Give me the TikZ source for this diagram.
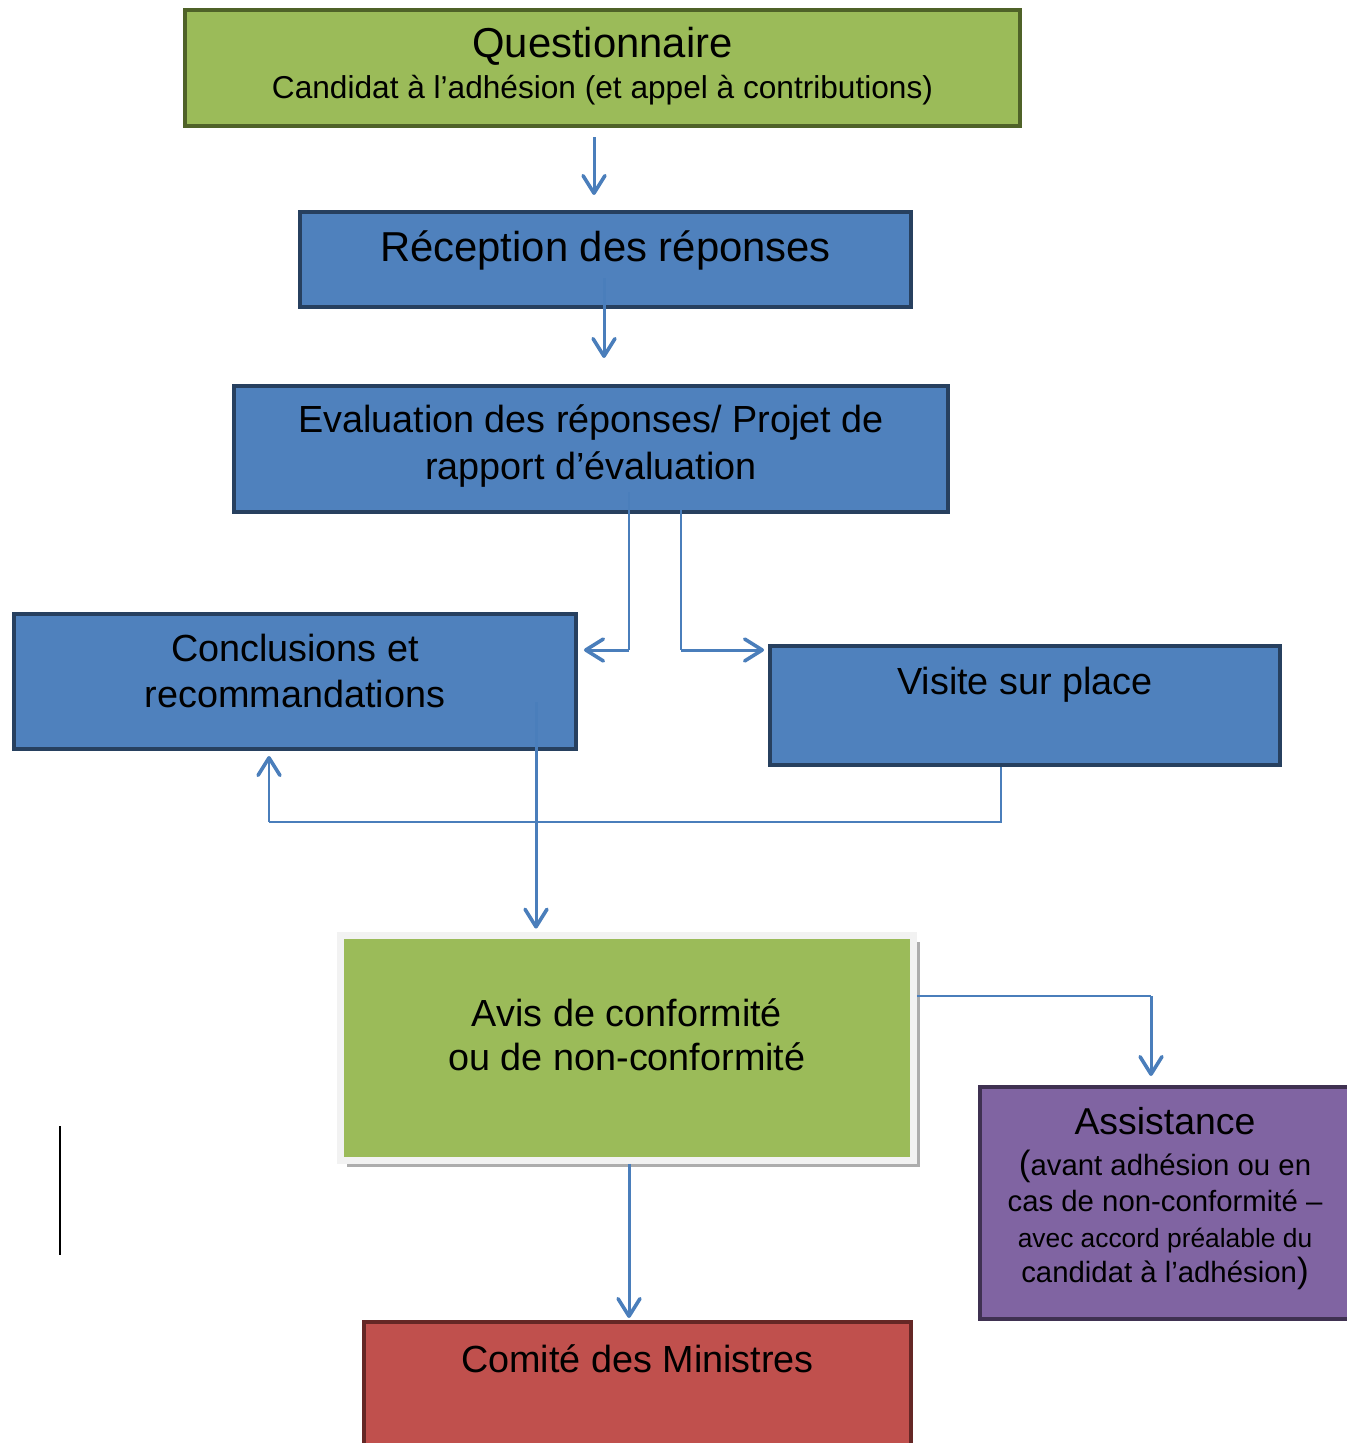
\documentclass[tikz,border=0pt]{standalone}
\usepackage{fontspec}
\setmainfont{Liberation Sans}
\usepackage{xcolor}
\usetikzlibrary{calc,arrows.meta,shadows}
\definecolor{qgreen}{HTML}{9BBB59}
\definecolor{qgreenline}{HTML}{4F6228}
\definecolor{qblue}{HTML}{4F81BD}
\definecolor{qblueline}{HTML}{27405F}
\definecolor{qpurple}{HTML}{8064A2}
\definecolor{qpurpleline}{HTML}{3F3151}
\definecolor{qred}{HTML}{C0504D}
\definecolor{qredline}{HTML}{652725}
\definecolor{qarrow}{HTML}{4A7EBB}
\definecolor{qframe}{HTML}{F2F2F2}
\tikzset{
    box/.style={
        rectangle,
        line width=2.3pt,
        inner sep=0pt
    },
    greenbox/.style={box, fill=qgreen, draw=qgreenline},
    bluebox/.style={box, fill=qblue, draw=qblueline},
    purplebox/.style={box, fill=qpurple, draw=qpurpleline},
    redbox/.style={box, fill=qred, draw=qredline},
    avisbox/.style={
        rectangle, inner sep=0pt,
        fill=qgreen, draw=qframe, line width=3.9pt,
        drop shadow={shadow xshift=3.8pt, shadow yshift=-3.8pt, fill=black!40, opacity=.8}
    },
    line/.style={draw=qarrow, line width=1.7pt,
        -{Straight Barb[length=10pt, width=12.5pt, line width=0pt 1.2, round]}},
    thinline/.style={draw=qarrow, line width=1.15pt},
}

\begin{document}
\begin{tikzpicture}[x=0.02cm, y=-0.02cm]
        \useasboundingbox (0,0) rectangle (1346,1443);

        % Setup the style for the text in the boxes
        \tikzset{boxtext/.style={align=center,
                                 text=black,
                                 font=\fontsize{21.5pt}{26.6pt}\selectfont}}

        \node[greenbox, minimum width=16.7cm, minimum height=2.32cm,
              label={[boxtext, yshift=1pt]center:{\fontsize{23.8pt}{24pt}\selectfont Questionnaire\\[-3.5pt]
                     \fontsize{18pt}{22pt}\selectfont Candidat à l’adhésion (et appel à contributions)}}]
              (quest) at (602.5,68) {};
        \node[bluebox, minimum width=12.22cm, minimum height=1.9cm,
              label={[boxtext, yshift=5pt, font=\fontsize{23.8pt}{28pt}\selectfont]center:Réception des réponses}]
              (recep) at (605.5,259.5) {};
        \node[bluebox, minimum width=14.28cm, minimum height=2.52cm,
              label={[boxtext, yshift=1.5pt]center:{Evaluation des réponses/ Projet de\\rapport d’évaluation}}]
              (eval) at (591,449) {};
        \node[bluebox, minimum width=11.24cm, minimum height=2.7cm,
              label={[boxtext, yshift=6pt]center:{Conclusions et\\recommandations}}]
              (concl) at (295,681.5) {};
        \node[bluebox, minimum width=10.2cm, minimum height=2.38cm,
              label={[boxtext, yshift=12pt]center:Visite sur place}]
              (visite) at (1025,705.5) {};
        \node[avisbox, minimum width=11.46cm, minimum height=4.5cm,
              label={[boxtext, yshift=7.5pt, font=\fontsize{21.5pt}{25pt}\selectfont]center:{Avis de conformité\\ou de non-conformité}}]
              (avis) at (627,1048) {};
        \node[purplebox, minimum width=7.4cm, minimum height=4.64cm,
              label={[boxtext, yshift=2.5pt, font=\fontsize{16.7pt}{20.3pt}\selectfont]center:{%
                     {\fontsize{21.3pt}{24pt}\selectfont Assistance}\\[3.5pt]
                     {\fontsize{20pt}{20.3pt}\selectfont(}avant adhésion ou en\\
                     cas de non-conformité –\\
                     \fontsize{15pt}{20.3pt}\selectfont avec accord préalable du\\
                     candidat à l’adhésion{\fontsize{20pt}{20.3pt}\selectfont)}}}]
              (assist) at (1165,1203) {};
        \node[redbox, minimum width=10.94cm, minimum height=4cm,
              label={[boxtext, yshift=36pt]center:Comité des Ministres}]
              (comite) at (637.5,1422) {};

        % bends of the elbow connectors
        \coordinate (e1) at ($(eval.south)+(38,-22)$);
        \coordinate (c1) at ($(concl.east)+(6,-31.5)$);
        \coordinate (e2) at ($(eval.south)+(90,-4)$);
        \coordinate (v1) at ($(visite.west)+(-4,-55.5)$);
        \coordinate (v2) at ($(visite.south)+(-24,0)$);
        \coordinate (c2) at ($(concl.south)+(-26,5)$);
        \coordinate (low) at ($(concl.south)+(-26,71)$);
        \coordinate (a1) at ($(avis.east)+(0,-52)$);
        \coordinate (s1) at ($(assist.north)+(-14,-9)$);

        % connectors between the boxes
        \draw[line] ($(quest.south)+(-8.5,9)$) -- ($(recep.north)+(-11.5,-15)$);
        \draw[line] ($(recep.center)+(-1.5,18.5)$) -- ($(eval.north)+(13,-26)$);
        \draw[thinline] (e1) -- (e1 |- c1);
        \draw[line] (e1 |- c1) -- (c1);
        \draw[thinline] (e2) -- (e2 |- v1);
        \draw[line] (e2 |- v1) -- (v1);
        \draw[thinline] (v2) |- (low);
        \draw[line] (low) -- (c2);
        \draw[line] ($(concl.center)+(241,20.5)$) -- ($(avis.north)+(-91,-3.5)$);
        \draw[thinline] (a1) -- (a1 -| s1);
        \draw[line] (a1 -| s1) -- (s1);
        \draw[line] ($(avis.south)+(2,0)$) -- ($(comite.north)+(-8.5,-2)$);

        % stray mark on the left
        \draw[line width=1.2pt] (60,1126) -- (60,1255);
\end{tikzpicture}
\end{document}
